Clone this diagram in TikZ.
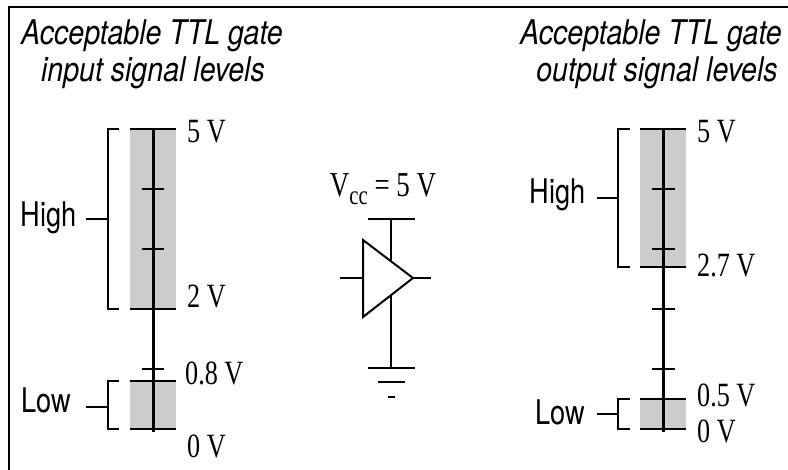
\documentclass[tikz,border=0pt]{standalone}
\usepackage{fontspec}
\usetikzlibrary{positioning}
\newfontfamily\labelsans[FakeStretch=0.8]{TeX Gyre Heros}
\newfontfamily\headsans[FakeStretch=0.84]{TeX Gyre Heros}
\newfontfamily\voltserif[FakeStretch=0.77]{Liberation Serif}

\begin{document}
\begin{tikzpicture}[x=1pt,y=-1pt]

% =========================
% Styles
% =========================
\tikzset{
    heading/.style={font=\headsans\itshape\fontsize{34}{37}\selectfont, inner sep=0pt, anchor=base},
    level/.style={font=\labelsans\fontsize{34}{34}\selectfont, inner sep=0pt, anchor=base east},
    volt/.style={font=\voltserif\fontsize{34}{34}\selectfont, inner sep=0pt, anchor=base west},
    band/.style={fill=black!20},
    axisline/.style={line width=3pt},
    tickline/.style={line width=2.4pt},
    brace/.style={line width=2pt},
    wire/.style={line width=2pt}
}

\useasboundingbox (0,0) rectangle (788,470);
\draw[line width=1.6pt] (9,470) -- (9,7) -- (788,7);

% =========================
% Input levels
% =========================
\node[heading] (intitlea) at (152,45) {Acceptable TTL gate};
\node[heading] (intitleb) at (153,82) {input signal levels};

\fill[band] (130,129) rectangle (176,309);
\fill[band] (130,381) rectangle (176,429);
\draw[axisline] (153,129) -- (153,432);
\foreach \y in {129,309,381,429}
    \draw[tickline] (130,\y) -- (176,\y);
\foreach \y in {189,249,369}
    \draw[tickline] (142,\y) -- (164,\y);

\draw[brace] (119,129) -- (108,129) -- (108,309) -- (119,309);
\draw[brace] (86,219) -- (108,219);
\draw[brace] (119,381) -- (108,381) -- (108,429) -- (119,429);
\draw[brace] (86,407) -- (108,407);

\node[level] (inhigh) at (77,227) {High};
\node[level] (inlow) at (71,413) {Low};
\node[volt] (infive) at (187,143) {5 V};
\node[volt] (intwo) at (187,308) {2 V};
\node[volt] (inzeroeight) at (185,385) {0.8 V};
\node[volt] (inzero) at (187,457) {0 V};

% =========================
% Buffer gate
% =========================
\node[font=\voltserif\fontsize{35}{35}\selectfont, inner sep=0pt, anchor=base] (vcc) at (383,197)
    {V\raisebox{-8pt}{\fontsize{27}{27}\selectfont cc} = 5 V};
\draw[wire] (368,219) -- (415,219);
\draw[wire] (391,219) -- (391,368);
\draw[wire] (340,278) -- (363,278);
\draw[wire] (413,278) -- (431,278);
\filldraw[wire, fill=white] (363,240) -- (413,278) -- (363,317) -- cycle;
\draw[wire] (368,368) -- (415,368);
\draw[wire] (378,382) -- (405,382);
\draw[wire] (388,397) -- (395,397);

% =========================
% Output levels
% =========================
\node[heading] (outtitlea) at (651,45) {Acceptable TTL gate};
\node[heading] (outtitleb) at (657,82) {output signal levels};

\fill[band] (640,129) rectangle (686,267);
\fill[band] (640,399) rectangle (686,429);
\draw[axisline] (663,129) -- (663,432);
\foreach \y in {129,267,399,429}
    \draw[tickline] (640,\y) -- (686,\y);
\foreach \y in {189,249,309,369}
    \draw[tickline] (652,\y) -- (675,\y);

\draw[brace] (630,129) -- (618,129) -- (618,267) -- (630,267);
\draw[brace] (597,198) -- (618,198);
\draw[brace] (630,399) -- (618,399) -- (618,429) -- (630,429);
\draw[brace] (597,414) -- (618,414);

\node[level] (outhigh) at (586,204) {High};
\node[level] (outlow) at (585,425) {Low};
\node[volt] (outfive) at (697,143) {5 V};
\node[volt] (outtwoseven) at (697,277) {2.7 V};
\node[volt] (outzerofive) at (697,407) {0.5 V};
\node[volt] (outzero) at (697,443) {0 V};

\end{tikzpicture}
\end{document}
